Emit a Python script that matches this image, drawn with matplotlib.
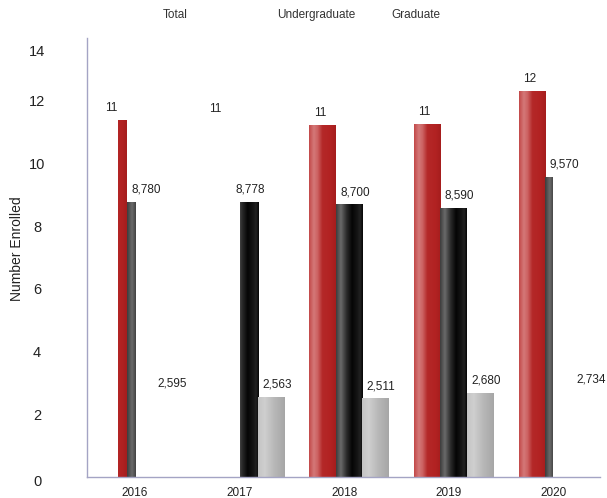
import numpy as np
import matplotlib
matplotlib.use("Agg")
import matplotlib.pyplot as plt
from matplotlib.colors import to_rgb
from matplotlib.transforms import ScaledTranslation

plt.rcParams['font.family'] = ['Liberation Sans', 'DejaVu Sans']

# ---- data ----
years = ['2016', '2017', '2018', '2019', '2020']
series_names = ['Total', 'Undergraduate', 'Graduate']
total = [11375, 11341, 11211, 11270, 12304]
undergrad = [8780, 8778, 8700, 8590, 9570]
graduate = [2595, 2563, 2511, 2680, 2734]
total_labels = ['11', '11', '11', '11', '12']
y_ticks = [0, 2, 4, 6, 8, 10, 12, 14]

# ---- style ----
# visible part of each bar slot (start, end fraction) as rendered in the reference
visible = {
    'Total':         [(0.675, 1.0), (0, 0), (0, 1), (0, 1), (0, 1)],
    'Undergraduate': [(0, 0.32), (0.32, 1.0), (0, 1), (0, 1), (0, 0.3)],
    'Graduate':      [(0, 0), (0, 1), (0, 1), (0, 1), (0, 0)],
}
slot_left = {'Total': -0.334, 'Undergraduate': -0.0805, 'Graduate': 0.173}
slot_w = 0.2535
grad_stops = {
    'Total': [(0, '#c24848'), (0.18, '#d47878'), (0.32, '#cc6262'), (0.5, '#b42828'),
              (0.8, '#b22222'), (1.0, '#a51d1d')],
    'Undergraduate': [(0, '#3c3c3c'), (0.18, '#6a6a6a'), (0.4, '#2a2a2a'), (0.6, '#050505'),
                      (0.8, '#161616'), (0.9, '#222222'), (1.0, '#050505')],
    'Graduate': [(0, '#c4c4c4'), (0.25, '#cfcfcf'), (0.6, '#b8b8b8'), (1.0, '#a6a6a6')],
}


def gradient(stops, n=256):
    pos = [p for p, _ in stops]
    cols = np.array([to_rgb(c) for _, c in stops])
    t = np.linspace(0, 1, n)
    arr = np.stack([np.interp(t, pos, cols[:, k]) for k in range(3)], axis=-1)
    return arr[np.newaxis, :, :]


fig = plt.figure(figsize=(6.07, 4.98), dpi=100)
ax = fig.add_axes([87 / 607, 21 / 498, 513 / 607, 439 / 498])
ax.set_xlim(-0.459, 4.445)
ax.set_ylim(0, 14)
ax.autoscale(False)

values = {'Total': total, 'Undergraduate': undergrad, 'Graduate': graduate}
x = np.arange(len(years))
for name in series_names:
    img = gradient(grad_stops[name])
    for i, v in enumerate(values[name]):
        h = v / 1000
        s, e = visible[name][i]
        left = x[i] + slot_left[name]
        if e > s:
            rect = ax.bar(left + s * slot_w, h, width=(e - s) * slot_w, align='edge',
                          color='none', edgecolor='none', linewidth=0)[0]
            im = ax.imshow(img, extent=[left, left + slot_w, 0, h], aspect='auto',
                           interpolation='bilinear', zorder=2)
            im.set_clip_path(rect)
        lab = total_labels[i] if name == 'Total' else f'{v:,}'
        ax.annotate(lab, (left, h), xytext=(4.5, 12), textcoords='offset pixels',
                    ha='left', va='center', fontsize=8.5, color='#222222')

for sp in ['top', 'right']:
    ax.spines[sp].set_visible(False)
for sp in ['left', 'bottom']:
    ax.spines[sp].set_color('#a4a4c4')
    ax.spines[sp].set_linewidth(1.0)

ax.set_xticks(x)
ax.set_xticklabels(years, fontsize=8.5, color='#222222')
ax.set_yticks(y_ticks)
ax.set_yticklabels([str(t) for t in y_ticks], fontsize=10.5, color='#222222')
ax.tick_params(axis='x', length=0, pad=7)
ax.tick_params(axis='y', length=0, pad=36)
for lab in ax.get_yticklabels():
    lab.set_horizontalalignment('center')
    if lab.get_text() == '14':
        lab.set_transform(lab.get_transform() + ScaledTranslation(0, -12 / 100, fig.dpi_scale_trans))
    if lab.get_text() == '0':
        lab.set_transform(lab.get_transform() + ScaledTranslation(0, -3 / 100, fig.dpi_scale_trans))

fig.text(17 / 607, 1 - 249 / 498, 'Number Enrolled', rotation=90, ha='center', va='center',
         fontsize=10, color='#222222')

legend_x = [175, 316, 416]
for name, lx in zip(series_names, legend_x):
    fig.text(lx / 607, 1 - 15 / 498, name, ha='center', va='center', fontsize=8.5, color='#333333')

fig.savefig('out.png', dpi=100)
